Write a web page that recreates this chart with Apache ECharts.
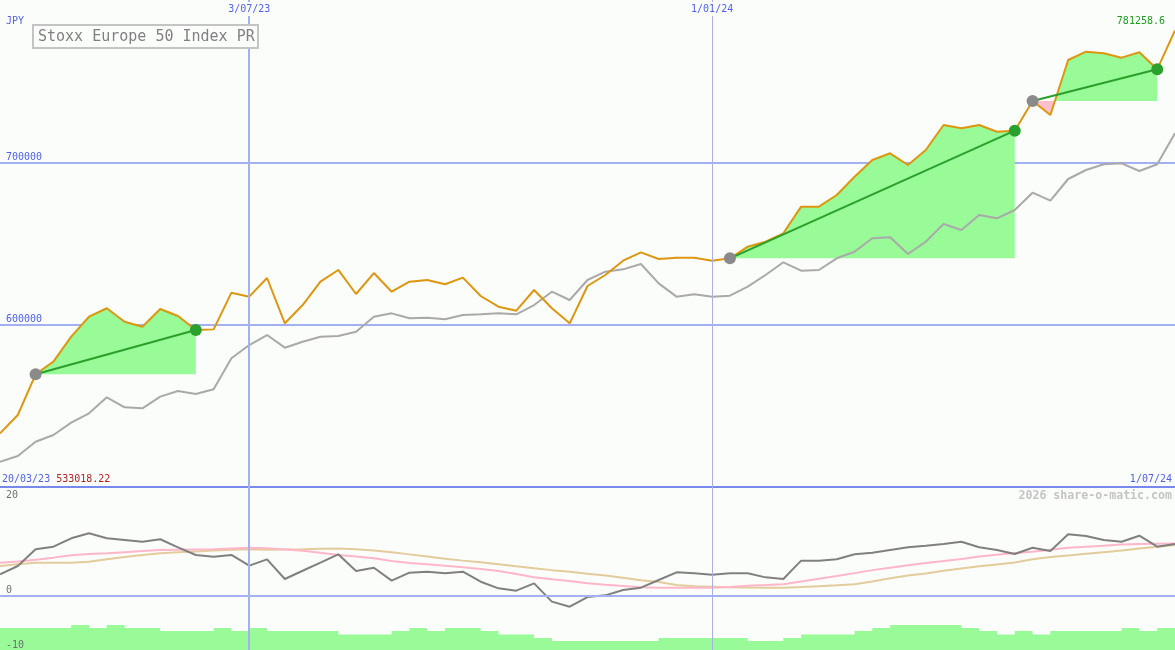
<!DOCTYPE html>
<html>
<head>
<meta charset="utf-8">
<script src="https://cdn.jsdelivr.net/npm/echarts@6/dist/echarts.min.js"></script>
<style>html,body{margin:0;padding:0;background:#fbfdfb}#c{width:1175px;height:650px}</style>
</head>
<body>
<div id="c"></div>
<script>
// ---- data ----
const dates = ['27/03/23','3/04/23','10/04/23','17/04/23','24/04/23','1/05/23','8/05/23','15/05/23','22/05/23','29/05/23','5/06/23','12/06/23','19/06/23','26/06/23','3/07/23','10/07/23','17/07/23','24/07/23','31/07/23','7/08/23','14/08/23','21/08/23','28/08/23','4/09/23','11/09/23','18/09/23','25/09/23','2/10/23','9/10/23','16/10/23','23/10/23','30/10/23','6/11/23','13/11/23','20/11/23','27/11/23','4/12/23','11/12/23','18/12/23','25/12/23','1/01/24','8/01/24','15/01/24','22/01/24','29/01/24','5/02/24','12/02/24','19/02/24','26/02/24','4/03/24','11/03/24','18/03/24','25/03/24','1/04/24','8/04/24','15/04/24','22/04/24','29/04/24','6/05/24','13/05/24','20/05/24','27/05/24','3/06/24','10/06/24','17/06/24','24/06/24','1/07/24'];
const price = [533018.22,544360,569430,577200,592600,604900,610100,601800,598700,609650,605340,596700,597100,619700,617250,628750,600830,612100,626470,633700,618900,631800,620300,626460,627500,624870,628950,617660,611070,608620,621350,610090,600830,623820,630590,639400,644570,640450,641250,641250,639400,640880,648030,651110,656280,672690,672690,679880,691150,701440,705560,698360,707600,723000,720960,723000,718870,719490,737780,729160,763040,768180,767150,764480,767770,757300,781258.6];
const compare = [515600,519100,527900,532030,539620,545400,555250,549100,548480,555650,559140,557290,560190,579280,587470,593630,585820,589520,592600,593020,595670,604900,606970,603900,604300,603300,605950,606360,606970,606360,612090,620300,615190,627500,632630,634080,637370,625460,617250,618700,617250,617870,623400,630590,638420,633240,633680,640880,644950,653200,653800,643530,651110,662010,658320,667560,665520,670640,681300,676370,689730,695280,698790,699400,694660,698790,717880];
const momentum = [3.93,5.46,8.53,9.01,10.56,11.48,10.56,10.25,9.93,10.38,8.9,7.49,7.17,7.49,5.52,6.69,3.07,4.58,6.09,7.61,4.54,5.15,2.76,4.23,4.42,4.11,4.42,2.57,1.35,0.92,2.27,-1.1,-2.03,-0.25,0.06,1.04,1.47,2.88,4.29,4.11,3.86,4.11,4.11,3.37,3.07,6.44,6.44,6.69,7.61,7.91,8.41,8.9,9.2,9.51,9.93,8.9,8.41,7.67,8.83,8.22,11.29,10.98,10.25,9.93,11.04,9.01,9.51];
const avgFast = [6.07,6.3,6.6,7.0,7.45,7.65,7.8,8.0,8.2,8.4,8.45,8.5,8.55,8.7,8.8,8.75,8.5,8.25,7.9,7.5,7.2,6.9,6.4,6.0,5.8,5.5,5.25,4.9,4.55,4.0,3.4,3.0,2.7,2.3,2.0,1.8,1.55,1.47,1.47,1.47,1.47,1.6,1.84,1.95,2.1,2.6,3.1,3.6,4.15,4.7,5.15,5.6,6.0,6.4,6.75,7.2,7.55,7.85,8.1,8.45,8.8,9.0,9.2,9.4,9.5,9.55,9.6];
const avgSlow = [5.46,5.8,6.07,6.07,6.07,6.25,6.7,7.1,7.5,7.8,8.0,8.15,8.3,8.45,8.53,8.45,8.5,8.55,8.65,8.7,8.55,8.3,8.0,7.6,7.2,6.8,6.45,6.15,5.8,5.4,5.05,4.7,4.4,4.05,3.7,3.3,2.85,2.5,1.95,1.75,1.65,1.55,1.5,1.47,1.47,1.6,1.75,1.9,2.1,2.6,3.2,3.7,4.1,4.6,5.0,5.4,5.75,6.1,6.7,7.1,7.4,7.7,8.0,8.3,8.7,9.0,9.32];
const volumeBars = [-5.95,-5.95,-5.95,-5.95,-5.4,-5.95,-5.4,-5.95,-5.95,-6.5,-6.5,-6.5,-5.95,-6.5,-5.95,-6.5,-6.5,-6.5,-6.5,-7.15,-7.15,-7.15,-6.5,-5.95,-6.5,-5.95,-5.95,-6.5,-7.15,-7.15,-7.8,-8.35,-8.35,-8.35,-8.35,-8.35,-8.35,-7.8,-7.8,-7.8,-7.8,-7.8,-8.35,-8.35,-7.8,-7.15,-7.15,-7.15,-6.5,-5.95,-5.4,-5.4,-5.4,-5.4,-5.95,-6.5,-7.15,-6.5,-7.15,-6.5,-6.5,-6.5,-6.5,-5.95,-6.5,-5.95,-5.95];
const tradeEntries = ['10/04/23','8/01/24','6/05/24'];
const tradeExits = ['12/06/23','29/04/24','24/06/24'];
const dividerDates = ['3/07/23','1/01/24'];
const priceTickLabels = [600000, 700000];
const lowerTickLabels = [-10, 0];
const lowerTopLabel = [20];
const titleText = 'Stoxx Europe 50 Index PR';
const currencyText = 'JPY';
const startDateText = '20/03/23';
const watermarkText = '2026 share-o-matic.com';

// ---- build ----
const MONO = 'DejaVu Sans Mono';
const BG = '#fbfdfb';
const trades = tradeEntries.map((d, k) => [dates.indexOf(d), dates.indexOf(tradeExits[k])]);

function fillItem(params, api) {
  const e = api.value(0), x = api.value(1);
  const base = price[e];
  const baseY = api.coord([e, base])[1];
  const curve = [];
  for (let i = e; i <= x; i++) {
    if (i > e) {
      const a = price[i - 1] - base, b = price[i] - base;
      if (a * b < 0) {
        const t = a / (a - b);
        const p0 = api.coord([i - 1, price[i - 1]]), p1 = api.coord([i, price[i]]);
        curve.push([p0[0] + t * (p1[0] - p0[0]), baseY]);
      }
    }
    curve.push(api.coord([i, price[i]]));
  }
  const x0 = curve[0][0], x1 = curve[curve.length - 1][0];
  const up = curve.map(p => [p[0], Math.min(p[1], baseY)]).concat([[x1, baseY], [x0, baseY]]);
  const dn = curve.map(p => [p[0], Math.max(p[1], baseY)]).concat([[x1, baseY], [x0, baseY]]);
  return { type: 'group', children: [
    { type: 'polygon', shape: { points: up }, style: { fill: '#98fb98' } },
    { type: 'polygon', shape: { points: dn }, style: { fill: '#ffc0cb' } }
  ]};
}
function markerItem(params, api) {
  const e = api.value(0), x = api.value(1);
  const p0 = api.coord([e, price[e]]), p1 = api.coord([x, price[x]]);
  return { type: 'group', children: [
    { type: 'line', shape: { x1: p0[0], y1: p0[1], x2: p1[0], y2: p1[1] }, style: { stroke: '#2a9f2a', lineWidth: 2 } },
    { type: 'circle', shape: { cx: p0[0], cy: p0[1], r: 6 }, style: { fill: '#8a8a8a' } },
    { type: 'circle', shape: { cx: p1[0], cy: p1[1], r: 6 }, style: { fill: '#2ca02c' } }
  ]};
}

const vLines = dividerDates.map((d, k) => ({ xAxis: d, lineStyle: { color: k === 0 ? '#a3b1f2' : '#aab0e2', width: k === 0 ? 2 : 1, type: 'solid' } }));

const chart = echarts.init(document.getElementById('c'), null, { renderer: 'canvas' });
chart.setOption({
  backgroundColor: BG,
  animation: false,
  textStyle: { fontFamily: MONO },
  grid: [
    { left: 0, right: 0, top: 0, height: 487 },
    { left: 0, right: 0, top: 487, height: 163 }
  ],
  xAxis: [
    { type: 'category', gridIndex: 0, data: dates, boundaryGap: false, position: 'top', z: 10,
      axisLine: { show: false }, axisTick: { show: false }, splitLine: { show: false },
      axisLabel: { inside: true, margin: 2, interval: (i, v) => dividerDates.indexOf(v) >= 0,
        color: '#5062e6', fontSize: 10, fontFamily: MONO, backgroundColor: BG, padding: [2, 1, 2, 1] } },
    { type: 'category', gridIndex: 1, data: dates, boundaryGap: false, position: 'top',
      axisLine: { show: true, onZero: false, lineStyle: { color: '#7888ec', width: 2 } },
      axisTick: { show: false }, splitLine: { show: false },
      axisLabel: { margin: 3, interval: (i) => i === dates.length - 1, align: 'right', padding: [0, 3, 0, 0],
        color: '#5062e6', fontSize: 10, fontFamily: MONO } }
  ],
  yAxis: [
    { type: 'value', gridIndex: 0, min: 500000, max: 800000, interval: 100000, position: 'left',
      axisLine: { show: false }, axisTick: { show: false },
      splitLine: { show: true, showMinLine: false, showMaxLine: false, lineStyle: { color: '#a3b1f2', width: 2 } },
      axisLabel: { inside: true, margin: 6, verticalAlign: 'bottom', color: '#5062e6', fontSize: 10, fontFamily: MONO,
        formatter: v => priceTickLabels.indexOf(v) >= 0 ? String(v) : '' } },
    { type: 'value', gridIndex: 1, min: -10, max: 20, interval: 10, position: 'left', z: 10,
      axisLine: { show: false }, axisTick: { show: false }, splitLine: { show: false },
      axisLabel: { inside: true, margin: 6, verticalAlign: 'bottom', color: '#707070', fontSize: 10, fontFamily: MONO,
        formatter: v => lowerTickLabels.indexOf(v) >= 0 ? String(v) : '' } },
    { type: 'value', gridIndex: 1, min: -10, max: 20, interval: 10, position: 'left', offset: 0, z: 10,
      axisLine: { show: false }, axisTick: { show: false }, splitLine: { show: false },
      axisLabel: { inside: true, margin: 6, verticalAlign: 'top', padding: [3, 0, 0, 0], color: '#707070', fontSize: 10, fontFamily: MONO,
        formatter: v => lowerTopLabel.indexOf(v) >= 0 ? String(v) : '' } }
  ],
  series: [
    { type: 'custom', name: 'trade fill', xAxisIndex: 0, yAxisIndex: 0, z: 1, silent: true,
      data: trades, renderItem: fillItem },
    { type: 'line', name: 'compare', xAxisIndex: 0, yAxisIndex: 0, z: 2, data: compare, symbol: 'none',
      lineStyle: { color: '#a9a9a9', width: 2 },
      markLine: { silent: true, symbol: 'none', label: { show: false }, data: vLines } },
    { type: 'line', name: 'price', xAxisIndex: 0, yAxisIndex: 0, z: 3, data: price, symbol: 'none',
      lineStyle: { color: '#dc960f', width: 2 } },
    { type: 'custom', name: 'trade marks', xAxisIndex: 0, yAxisIndex: 0, z: 4, silent: true,
      data: trades, renderItem: markerItem },
    { type: 'line', name: 'slow', xAxisIndex: 1, yAxisIndex: 1, z: 2, data: avgSlow, symbol: 'none',
      lineStyle: { color: '#e3cc9c', width: 2 },
      markLine: { silent: true, symbol: 'none', label: { show: false },
        data: vLines.concat([{ yAxis: 0, lineStyle: { color: '#a3b1f2', width: 2, type: 'solid' } }]) } },
    { type: 'line', name: 'fast', xAxisIndex: 1, yAxisIndex: 1, z: 2, data: avgFast, symbol: 'none',
      lineStyle: { color: '#ffb6c8', width: 2 } },
    { type: 'line', name: 'momentum', xAxisIndex: 1, yAxisIndex: 1, z: 3, data: momentum, symbol: 'none',
      lineStyle: { color: '#808080', width: 2 } },
    { type: 'line', name: 'volume', xAxisIndex: 1, yAxisIndex: 1, z: 4, data: volumeBars, symbol: 'none', step: 'end',
      lineStyle: { width: 0 }, areaStyle: { color: '#98fb98', opacity: 1, origin: 'start' } }
  ],
  graphic: [
    { type: 'text', z: 100, style: { x: 6, y: 21, text: currencyText, fill: '#5062e6', fontSize: 10, fontFamily: MONO, verticalAlign: 'middle' } },
    { type: 'rect', z: 100, shape: { x: 33, y: 25, width: 225, height: 23 }, style: { fill: BG, stroke: '#c4c4c4', lineWidth: 2 } },
    { type: 'text', z: 101, style: { x: 38, y: 37, text: titleText, fill: '#808080', fontSize: 15, fontFamily: MONO, verticalAlign: 'middle' } },
    { type: 'text', z: 100, style: { x: 1165, y: 21, text: String(price[price.length - 1]), fill: '#1f9a1f', fontSize: 10, fontFamily: MONO, align: 'right', verticalAlign: 'middle' } },
    { type: 'text', z: 100, style: { x: 2, y: 479, text: '{d|' + startDateText + '} {v|' + price[0].toFixed(2) + '}', fontSize: 10, fontFamily: MONO, verticalAlign: 'middle',
      rich: { d: { fill: '#5062e6', fontSize: 10, fontFamily: MONO }, v: { fill: '#b22222', fontSize: 10, fontFamily: MONO } } } },
    { type: 'text', z: 100, style: { x: 1172, y: 496, text: watermarkText, fill: '#c4c4c4', fontSize: 11.6, fontWeight: 'bold', fontFamily: MONO, align: 'right', verticalAlign: 'middle' } }
  ]
});
</script>
</body>
</html>
